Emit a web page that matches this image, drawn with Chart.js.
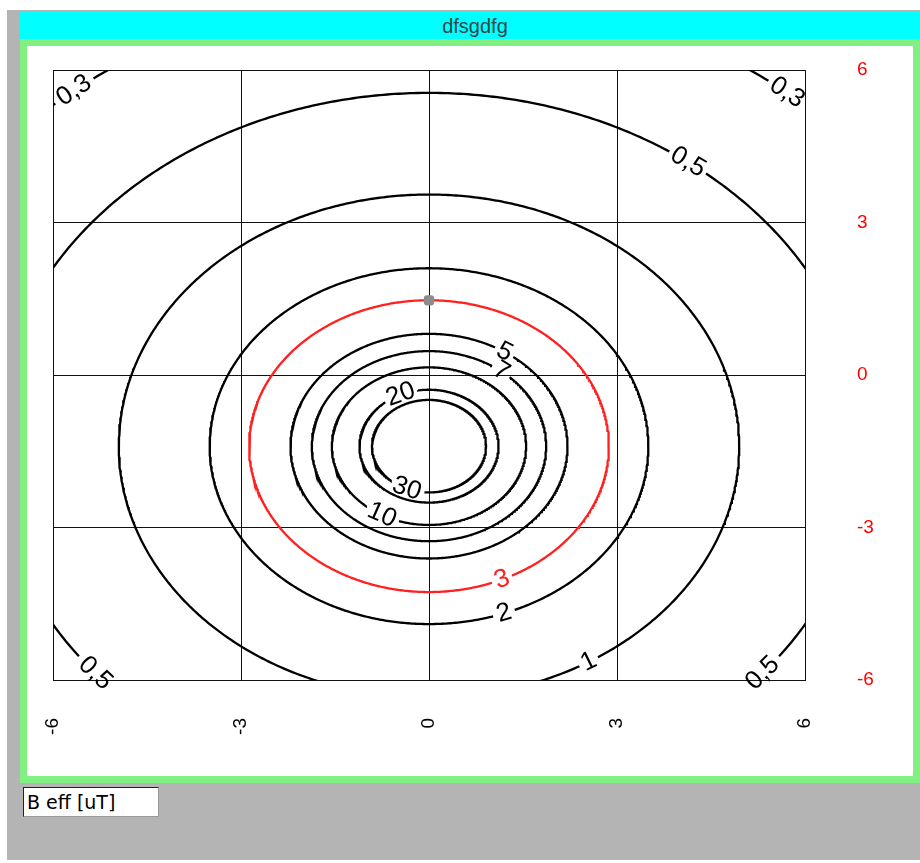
<!DOCTYPE html>
<html>
<head>
<meta charset="utf-8">
<script src="https://cdn.jsdelivr.net/npm/chart.js@4.4.0/dist/chart.umd.min.js"></script>
<style>
  body { margin: 0; width: 920px; height: 863px; background: #fff; position: relative; overflow: hidden; font-family: "Liberation Sans", Arial, sans-serif; }
  #back { position: absolute; left: 7px; top: 10px; width: 913px; height: 850px; background: #b4b4b4; }
  #titlebar { position: absolute; left: 20px; top: 12px; width: 910px; height: 27px; background: #00ffff; color: #2c4848; font-size: 20px; text-align: center; line-height: 28px; }
  #frame { position: absolute; left: 20px; top: 39px; width: 910px; height: 744px; background: #80f080; }
  #panel { position: absolute; left: 27px; top: 46px; width: 886px; height: 730px; background: #fff; }
  #myChart { position: absolute; left: 27px; top: 46px; }
  #legend { position: absolute; left: 23px; top: 787px; width: 131px; height: 28px; background: #fff; border: 1px solid #222; border-right-color: #999; border-bottom-color: #999; font-family: "DejaVu Sans", sans-serif; font-size: 19px; line-height: 28px; padding-left: 3px; color: #000; }
</style>
</head>
<body>
<div id="back"></div>
<div id="titlebar">dfsgdfg</div>
<div id="frame"></div>
<div id="panel"></div>
<canvas id="myChart" width="886" height="730"></canvas>
<div id="legend">B eff [uT]</div>
<script>
// contour levels and the radius of each ring (data units)
const levels = ["0,3", "0,5", "1", "2", "3", "5", "7", "10", "20", "30"];
const radii = [9.0, 6.95, 4.95, 3.5, 2.87, 2.21, 1.87, 1.55, 1.11, 0.91];
const centerX = 0;
const centerY = -1.4;
const xTicks = [-6, -3, 0, 3, 6];
const yTicks = [-6, -3, 0, 3, 6];

// where the labels sit on each ring (degrees)
const labelAngles = [[129, 50.6], [53.5, -140, -40], [-59], [-70], [-66], [57], [52], [-119], [114], [-113]];
const redLevel = "3";
const black = "#000";
const red = "#ff2020";
const labelFont = '26px "Liberation Sans", Arial, sans-serif';

let myChart = document.getElementById("myChart");

function ringColor(i) {
  return levels[i] === redLevel ? red : black;
}

function ringPoints(i, kx, ky, ctx) {
  let r = radii[i];
  let w = ctx.measureText(levels[i]).width;
  let gaps = labelAngles[i].map(a => {
    let t = a * Math.PI / 180;
    let s = Math.hypot(kx * Math.sin(t), ky * Math.cos(t)) * r;
    return [t, (w / 2 + 3) / s];
  });
  let pts = [];
  let n = 720;
  for (let k = 0; k <= n; k++) {
    let t = k / n * 2 * Math.PI;
    let inGap = gaps.some(g => Math.abs(Math.atan2(Math.sin(t - g[0]), Math.cos(t - g[0]))) < g[1]);
    pts.push({ x: centerX + r * Math.cos(t), y: inGap ? null : centerY + r * Math.sin(t) });
  }
  return pts;
}

const contourLabels = {
  id: "contourLabels",
  afterDatasetsDraw(chart) {
    const ctx = chart.ctx;
    const x = chart.scales.x;
    const y = chart.scales.y;
    ctx.save();
    ctx.font = labelFont;
    ctx.textAlign = "center";
    ctx.textBaseline = "middle";
    for (let i = 0; i < levels.length; i++) {
      for (let a of labelAngles[i]) {
        let t = a * Math.PI / 180;
        let r = radii[i];
        let px = x.getPixelForValue(centerX + r * Math.cos(t));
        let py = y.getPixelForValue(centerY + r * Math.sin(t));
        let dx = x.getPixelForValue(centerX + r * Math.cos(t + 0.01)) - px;
        let dy = y.getPixelForValue(centerY + r * Math.sin(t + 0.01)) - py;
        let ang = Math.atan2(dy, dx);
        if (ang > Math.PI / 2) ang -= Math.PI;
        if (ang < -Math.PI / 2) ang += Math.PI;
        ctx.save();
        ctx.translate(px, py);
        ctx.rotate(ang);
        ctx.fillStyle = ringColor(i);
        ctx.fillText(levels[i], 0, 0);
        ctx.restore();
      }
    }
    ctx.restore();
  }
};

let datasets = levels.map((lev, i) => ({
  label: lev,
  data: [],
  showLine: true,
  borderColor: ringColor(i),
  borderWidth: 2.3,
  pointRadius: 0,
  spanGaps: false,
  tension: 0
}));
datasets.push({
  label: "marker",
  data: [{ x: centerX, y: centerY + radii[levels.indexOf(redLevel)] }],
  order: -1,
  pointRadius: 6,
  pointStyle: "rectRounded",
  pointBackgroundColor: "#8c8c8c",
  pointBorderWidth: 0,
  showLine: false
});

const tickFont = { family: '"Liberation Sans", Arial, sans-serif', size: 19 };

function fixSize(size) {
  return s => {
    if (s.isHorizontal()) s.height = size; else s.width = size;
    s.paddingTop = 0;
    s.paddingBottom = 0;
    s.paddingLeft = 0;
    s.paddingRight = 0;
  };
}

let covidChart = new Chart(myChart, {
  type: "scatter",
  data: { datasets: datasets },
  options: {
    responsive: false,
    animation: false,
    devicePixelRatio: 1,
    layout: { padding: { left: 26, top: 24, right: 0, bottom: 0 } },
    plugins: { legend: { display: false }, tooltip: { enabled: false }, title: { display: false } },
    scales: {
      x: {
        type: "linear",
        position: "bottom",
        min: -6,
        max: 6,
        afterBuildTicks: s => { s.ticks = xTicks.map(v => ({ value: v })); },
        afterFit: fixSize(96),
        ticks: { autoSkip: false, minRotation: 90, maxRotation: 90, padding: 38, color: black, font: tickFont, callback: v => String(v) },
        grid: { color: "#111", lineWidth: 1, drawTicks: false },
        border: { color: "#111" }
      },
      y: {
        type: "linear",
        position: "right",
        min: -6,
        max: 6,
        afterBuildTicks: s => { s.ticks = yTicks.map(v => ({ value: v })); },
        afterFit: fixSize(108),
        ticks: { padding: 52, color: "#ff0000", font: tickFont, callback: v => String(v) },
        grid: { color: "#111", lineWidth: 1, drawTicks: false },
        border: { color: "#111" }
      }
    }
  },
  plugins: [contourLabels]
});

// build the rings once the scales are known, leaving gaps for the labels
const ctx2 = myChart.getContext("2d");
ctx2.save();
ctx2.font = labelFont;
const kx = Math.abs(covidChart.scales.x.getPixelForValue(1) - covidChart.scales.x.getPixelForValue(0));
const ky = Math.abs(covidChart.scales.y.getPixelForValue(1) - covidChart.scales.y.getPixelForValue(0));
for (let i = 0; i < levels.length; i++) {
  covidChart.data.datasets[i].data = ringPoints(i, kx, ky, ctx2);
}
ctx2.restore();
covidChart.update("none");
</script>
</body>
</html>
